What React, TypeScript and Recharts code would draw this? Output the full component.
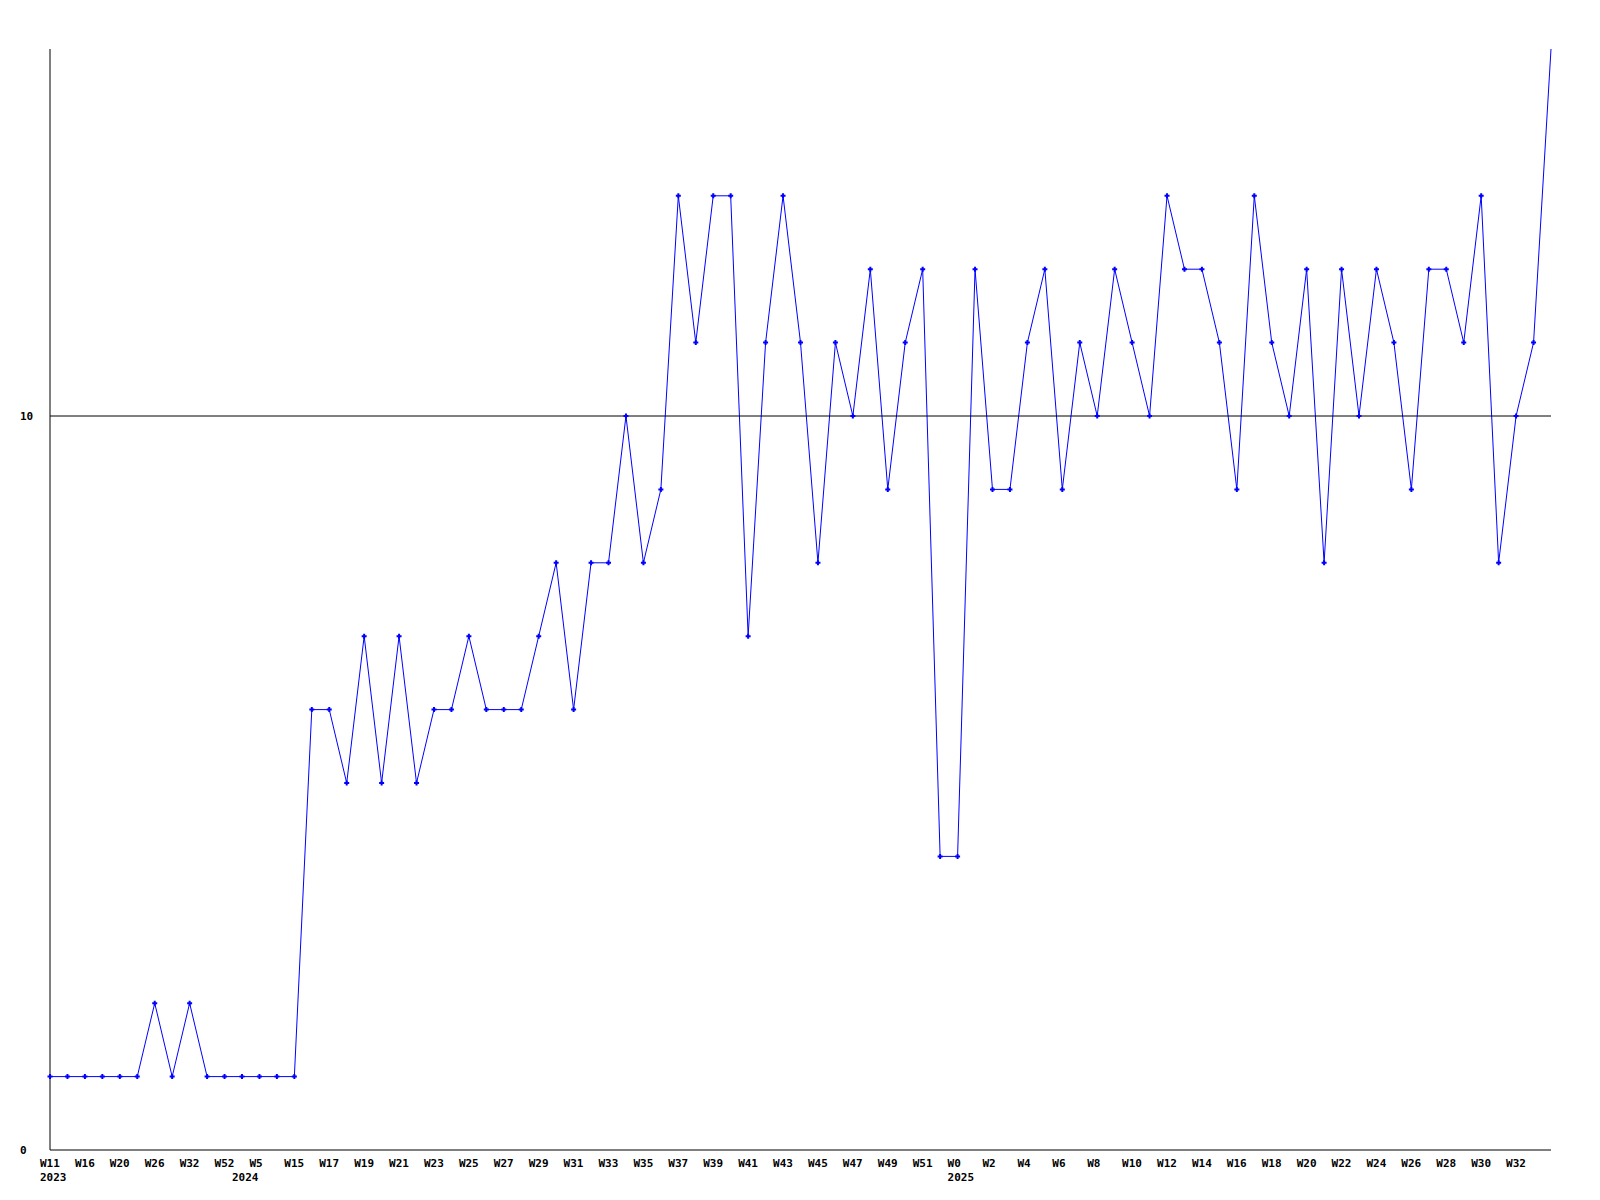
import { Line, LineChart, ReferenceLine, XAxis, YAxis } from "recharts";

// week labels, one per sample (only every other one is printed on the axis)
const weeks = [
  "W11", "W13", "W16", "W18", "W20", "W23", "W26", "W29", "W32", "W40",
  "W52", "W2", "W5", "W10", "W15", "W16", "W17", "W18", "W19", "W20",
  "W21", "W22", "W23", "W24", "W25", "W26", "W27", "W28", "W29", "W30",
  "W31", "W32", "W33", "W34", "W35", "W36", "W37", "W38", "W39", "W40",
  "W41", "W42", "W43", "W44", "W45", "W46", "W47", "W48", "W49", "W50",
  "W51", "W52", "W0", "W1", "W2", "W3", "W4", "W5", "W6", "W7",
  "W8", "W9", "W10", "W11", "W12", "W13", "W14", "W15", "W16", "W17",
  "W18", "W19", "W20", "W21", "W22", "W23", "W24", "W25", "W26", "W27",
  "W28", "W29", "W30", "W31", "W32", "W33", "W34",
];

// year marker printed under the first sample of each year
const yearStarts: Record<number, string> = { 0: "2023", 11: "2024", 52: "2025" };

const values = [
  1, 1, 1, 1, 1, 1, 2, 1, 2, 1,
  1, 1, 1, 1, 1, 6, 6, 5, 7, 5,
  7, 5, 6, 6, 7, 6, 6, 6, 7, 8,
  6, 8, 8, 10, 8, 9, 13, 11, 13, 13,
  7, 11, 13, 11, 8, 11, 10, 12, 9, 11,
  12, 4, 4, 12, 9, 9, 11, 12, 9, 11,
  10, 12, 11, 10, 13, 12, 12, 11, 9, 13,
  11, 10, 12, 8, 12, 10, 12, 11, 9, 12,
  12, 11, 13, 8, 10, 11, 15,
];

const yTicks = [0, 10];
const yMax = 15;

const data = weeks.map((week, i) => ({ week, value: values[i] }));

const FONT = "'DejaVu Sans Mono', 'Liberation Mono', monospace";

function WeekTick(props: any) {
  const { x, y, index } = props;
  const year = yearStarts[index];
  // every other week is labelled, the last sample gets no label
  const showWeek = index % 2 === 0 && index < weeks.length - 1;
  return (
    <g>
      {showWeek && (
        <text x={x - 10} y={y + 17} fontFamily={FONT} fontSize={11} fontWeight="bold" fill="#000">
          {weeks[index]}
        </text>
      )}
      {year && (
        <text x={x - 10} y={y + 31} fontFamily={FONT} fontSize={11} fontWeight="bold" fill="#000">
          {year}
        </text>
      )}
    </g>
  );
}

function ValueTick(props: any) {
  const { x, y, payload } = props;
  return (
    <text x={x - 30} y={y + 4} fontFamily={FONT} fontSize={11} fontWeight="bold" fill="#000">
      {payload.value}
    </text>
  );
}

function CrossDot(props: any) {
  const { cx, cy, payload } = props;
  if (cx == null || cy == null || payload.value >= yMax) return null;
  return (
    <path
      d={`M${cx - 2.5},${cy}h5M${cx},${cy - 2.5}v5`}
      stroke="#0000ff"
      strokeWidth={2}
      fill="none"
    />
  );
}

export default function App() {
  return (
    <div style={{ position: "absolute", left: 0, top: 0, background: "#fff" }}>
      <LineChart
        width={1600}
        height={1200}
        data={data}
        margin={{ top: 49, right: 49, bottom: 0, left: 0 }}
      >
        <XAxis
          dataKey="week"
          interval={0}
          tick={<WeekTick />}
          tickLine={false}
          tickSize={0}
          tickMargin={0}
          height={50}
          axisLine={{ stroke: "#000" }}
        />
        <YAxis
          domain={[0, yMax]}
          ticks={yTicks}
          width={50}
          tick={<ValueTick />}
          tickLine={false}
          tickSize={0}
          tickMargin={0}
          axisLine={{ stroke: "#000" }}
        />
        <Line
          type="linear"
          dataKey="value"
          stroke="#0000ff"
          strokeWidth={1}
          dot={<CrossDot />}
          activeDot={false}
          isAnimationActive={false}
        />
        <ReferenceLine y={10} stroke="#000" strokeWidth={1} />
      </LineChart>
    </div>
  );
}
